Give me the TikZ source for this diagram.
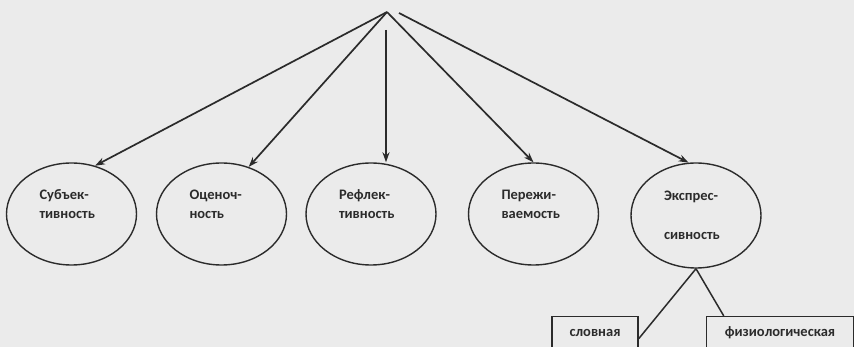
\documentclass[tikz,border=0pt]{standalone}
\usepackage{fontspec}
\setmainfont{Carlito}
\usepackage{xcolor}
\usetikzlibrary{shapes.geometric, arrows.meta, positioning}

\definecolor{ink}{HTML}{2B2B2B}
\definecolor{paper}{HTML}{EBEBEB}

\begin{document}
\begin{tikzpicture}[x=1pt, y=-1pt, >={Stealth[length=10pt,width=7pt]},
  oval/.style={ellipse, draw=ink, line width=1.4pt, minimum width=130pt, minimum height=102pt, inner sep=0pt},
  lbl/.style={font=\bfseries\fontsize{14.5}{19}\selectfont, text=ink, align=left, text width=64pt, inner sep=0pt},
  kind/.style={rectangle, draw=ink, line width=1.4pt, anchor=north, font=\bfseries\fontsize{14.5}{16}\selectfont, text=ink, text height=9pt, text depth=3pt, inner ysep=11pt},
  link/.style={->, draw=ink, line width=1.7pt},
  tie/.style={draw=ink, line width=1.5pt}]
\clip (0,0) rectangle (854,347);
\fill[paper] (0,0) rectangle (854,347);

% top point of the arrows
\coordinate (top) at (387,12);
\coordinate (topr) at (399,13);
\coordinate (vtop) at (386,30);

% properties
\node[oval] (subj) at (71.5,214) {};
\node[oval] (otsen) at (221.5,214) {};
\node[oval] (refl) at (371,214) {};
\node[oval] (perezh) at (533.5,214) {};
\node[oval, minimum height=105pt] (ekspr) at (696,215.5) {};

\node[lbl] (subjtxt) at ([yshift=10pt]subj.center) {Субъек-\\тивность};
\node[lbl] (otsentxt) at ([yshift=10pt]otsen.center) {Оценоч-\\ность};
\node[lbl] (refltxt) at ([yshift=10pt]refl.center) {Рефлек-\\тивность};
\node[lbl] (perezhtxt) at ([yshift=10pt]perezh.center) {Пережи-\\ваемость};
\node[lbl] (eksprtxt) at (ekspr.center) {Экспрес-\\[20pt]сивность};

% kinds of expressivity
\node[kind, minimum width=86pt] (slov) at (595,316) {словная};
\node[kind, minimum width=147pt] (fiziol) at (780,316) {физиологическая};

\draw[link] (top) -- (subj.64);
\draw[link] (top) -- (otsen.60);
\draw[link] (vtop) -- (vtop |- refl.north);
\draw[link] (top) -- (perezh.north);
\draw[link] (topr) -- (ekspr.98);

\draw[tie] (ekspr.south) -- ([yshift=-5pt]slov.east);
\draw[tie] (ekspr.south) -- ([xshift=18pt]fiziol.north west);
\end{tikzpicture}
\end{document}
